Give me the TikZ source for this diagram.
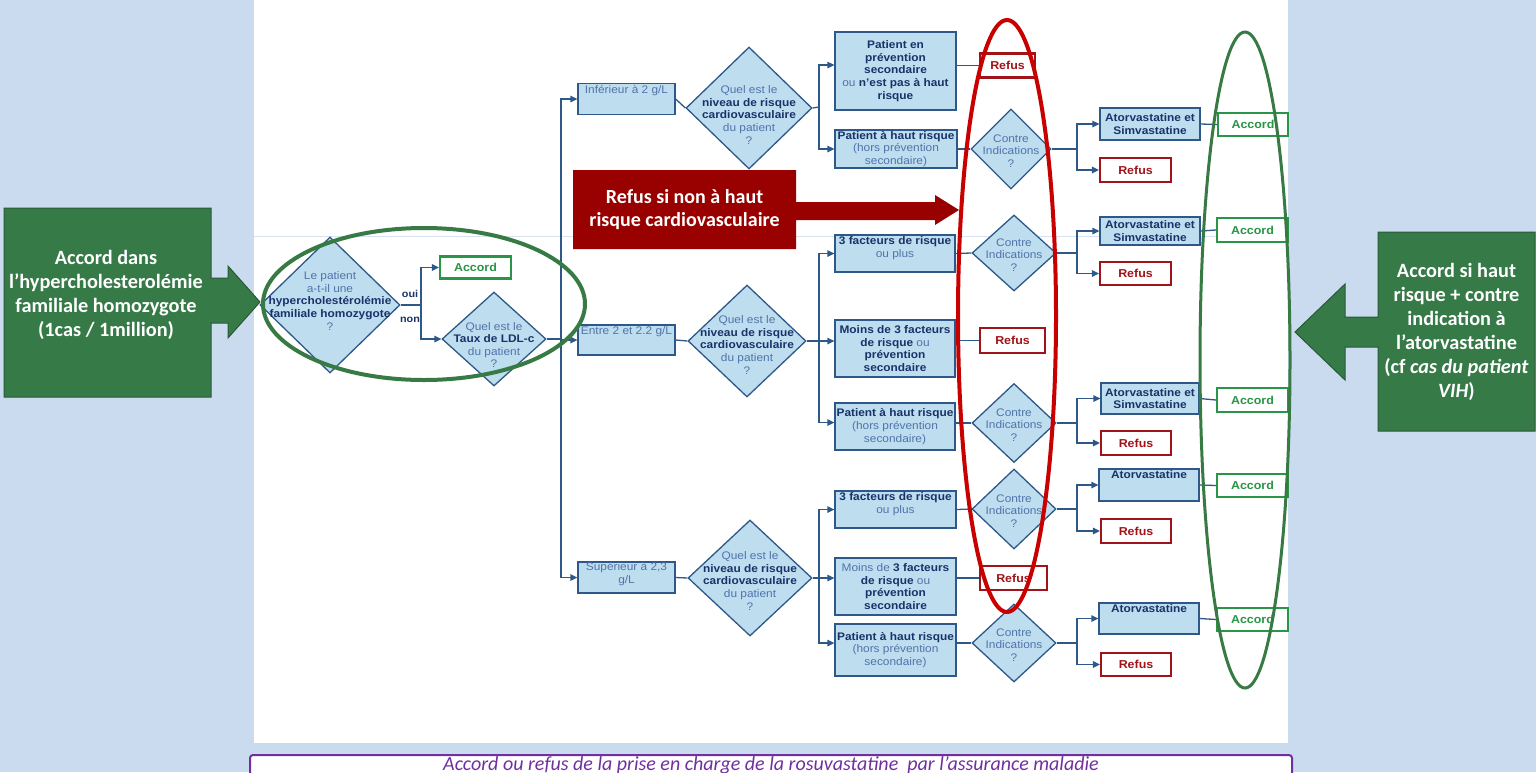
\documentclass[tikz,border=0pt]{standalone}
\usepackage{fontspec}
\usetikzlibrary{shapes.geometric,arrows.meta}
\newfontfamily\fcf[FakeStretch=1.08]{Liberation Sans}
\newfontfamily\calf{Carlito}
\definecolor{bgblue}{RGB}{202,219,240}
\definecolor{fcfill}{RGB}{190,222,240}
\definecolor{fcb}{RGB}{45,88,135}
\definecolor{fcdark}{RGB}{25,50,105}
\definecolor{fclight}{RGB}{80,115,170}
\definecolor{accg}{RGB}{40,150,70}
\definecolor{refr}{RGB}{160,20,25}
\definecolor{ellred}{RGB}{200,0,0}
\definecolor{ellgreen}{RGB}{56,122,68}
\definecolor{callg}{RGB}{54,122,71}
\definecolor{callgb}{RGB}{40,90,55}
\definecolor{callred}{RGB}{153,0,0}
\definecolor{capurple}{RGB}{112,48,160}
\definecolor{faintline}{RGB}{215,225,240}
\newcommand\fb[1]{{\bfseries\color{fcdark}#1}}
\tikzset{
  fcfont/.style={font=\fcf\fontsize{11}{12.6}\selectfont},
  fbox/.style={rectangle, draw=fcb, fill=fcfill, line width=1.3pt, inner sep=0pt, align=center, fcfont, text=fclight},
  btxt/.style={inner sep=2pt, align=center, fcfont, text=fclight},
  dia/.style={diamond, draw=fcb, fill=fcfill, line width=1.3pt, inner sep=0pt},
  dtxt/.style={inner sep=0pt, align=center, fcfont, text=fclight},
  accbox/.style={rectangle, draw=accg, line width=2.2pt, fill=white, inner sep=0pt, font=\fcf\bfseries\fontsize{11.5}{13}\selectfont, text=accg},
  refbox/.style={rectangle, draw=refr, line width=2.2pt, fill=white, inner sep=0pt, font=\fcf\bfseries\fontsize{11.5}{13}\selectfont, text=refr},
  con/.style={draw=fcb, line width=1.3pt},
  arr/.style={con, -{Triangle[length=7pt,width=6.5pt]}},
  calltext/.style={align=center, text=white, font=\calf\bfseries\fontsize{20.3}{24}\selectfont, inner sep=0pt},
}
\begin{document}
\begin{tikzpicture}[x=1pt,y=-1pt]
\useasboundingbox (0,0) rectangle (1536,772);
\clip (0,0) rectangle (1536,772);
\fill[bgblue] (0,0) rectangle (1536,772);
\fill[white] (254,0) rectangle (1288,743);
\draw[faintline, line width=0.8pt] (254,236) -- (1288,236);

% ---------- first stage ----------
\node[dia, minimum width=140pt, minimum height=136pt] (d1) at (330,305) {};
\node[dtxt] (d1t) at ([yshift=4pt]d1.center) {Le patient\\a-t-il une\\\fb{hypercholestérolémie}\\\fb{familiale homozygote}\\?};
\node[accbox, minimum width=71pt, minimum height=22pt] (acc0) at (475.5,267.5) {Accord};
\node[dia, minimum width=104pt, minimum height=94pt] (d2) at (494,339) {};
\node[dtxt] (d2t) at ([yshift=-6pt]d2.center) {Quel est le\\\fb{Taux de LDL-c}\\du patient\\?};
\coordinate (j1) at (421,305);
\draw[con] (d1.east) -- (j1);
\draw[arr] (j1) |- (acc0.west);
\draw[arr] (j1) |- (d2.west);
\node[font=\fcf\bfseries\fontsize{10}{12}\selectfont, text=fcdark, inner sep=0pt] (oui) at (410,294) {oui};
\node[font=\fcf\bfseries\fontsize{10}{12}\selectfont, text=fcdark, inner sep=0pt] (non) at (410,320) {non};

% ---------- LDL boxes ----------
\node[fbox, minimum width=97pt, minimum height=31pt] (inf) at (626.5,99) {};
\node[btxt, anchor=north] (inft) at (inf.north) {Inférieur à 2 g/L};
\node[fbox, minimum width=97pt, minimum height=30pt] (entre) at (626.5,340) {};
\node[btxt, anchor=north] (entret) at (entre.north) {Entre 2 et 2.2 g/L};
\node[fbox, minimum width=97pt, minimum height=31pt] (sup) at (626.5,577.5) {};
\node[btxt, anchor=north, inner sep=1pt] (supt) at (sup.north) {Supérieur à 2,3\\g/L};
\coordinate (j2) at (561,339);
\draw[con] (d2.east) -- (j2);
\draw[arr] (j2) |- (inf.west);
\draw[arr] (j2) |- (entre.west);
\draw[arr] (j2) |- (sup.west);

% ---------- risk diamonds ----------
\node[dia, minimum width=126pt, minimum height=122pt] (d3a) at (749,108) {};
\node[dtxt] (d3at) at ([yshift=-7pt]d3a.center) {Quel est le\\\fb{niveau de risque}\\\fb{cardiovasculaire}\\du patient\\?};
\node[dia, minimum width=118pt, minimum height=112pt] (d3b) at (747,341) {};
\node[dtxt] (d3bt) at ([yshift=-4pt]d3b.center) {Quel est le\\\fb{niveau de risque}\\\fb{cardiovasculaire}\\du patient\\?};
\node[dia, minimum width=124pt, minimum height=116pt] (d3c) at (750,578) {};
\node[dtxt] (d3ct) at ([yshift=-3pt]d3c.center) {Quel est le\\\fb{niveau de risque}\\\fb{cardiovasculaire}\\du patient\\?};
\draw[con] (inf.east) -- (d3a.west);
\draw[con] (entre.east) -- (d3b.west);
\draw[con] (sup.east) -- (d3c.west);

% ---------- row a ----------
\node[fbox, minimum width=121pt, minimum height=78pt] (pa1) at (895.5,71) {\fb{Patient en}\\\fb{prévention}\\\fb{secondaire}\\ou \fb{n’est pas à haut}\\\fb{risque}};
\node[fbox, minimum width=122pt, minimum height=38pt] (pa2) at (896,149) {\fb{Patient à haut risque}\\(hors prévention\\secondaire)};
\coordinate (j3a) at (819,107);
\draw[con] (d3a.east) -- (j3a);
\draw[arr] (j3a) |- ([yshift=6pt]pa1.west);
\draw[arr] (j3a) |- (pa2.west);
\node[refbox, minimum width=55pt, minimum height=24pt] (refA) at (1007.5,65.5) {Refus};
\draw[con] (pa1.east |- refA) -- (refA.west);
\node[dia, minimum width=80pt, minimum height=80pt] (ca1) at (1011,149) {};
\node[dtxt] (ca1t) at ([yshift=-2pt]ca1.center) {Contre\\Indications\\?};
\draw[con] (pa2.east) -- (ca1.west);
\node[fbox, minimum width=100pt, minimum height=32pt] (atvA) at (1150,124) {\fb{Atorvastatine et}\\\fb{Simvastatine}};
\node[accbox, minimum width=70pt, minimum height=23pt] (accA) at (1253,124.5) {Accord};
\node[refbox, minimum width=71pt, minimum height=24pt] (refA2) at (1135.5,170) {Refus};
\coordinate (k1) at (1077,149);
\draw[con] (ca1.east) -- (k1);
\draw[arr] (k1) |- (atvA.west);
\draw[arr] (k1) |- (refA2.west);
\draw[con] (atvA.east) -- (accA.west);

% ---------- row b ----------
\node[fbox, minimum width=120pt, minimum height=37pt] (pb1) at (895,253.5) {};
\node[btxt, anchor=north] (pb1t) at (pb1.north) {\fb{3 facteurs de risque}\\ou plus};
\node[fbox, minimum width=120pt, minimum height=57pt] (pb2) at (895,348.5) {\fb{Moins de 3 facteurs}\\\fb{de risque} ou\\\fb{prévention}\\\fb{secondaire}};
\node[fbox, minimum width=120pt, minimum height=47pt] (pb3) at (895,426.5) {\fb{Patient à haut risque}\\(hors prévention\\secondaire)};
\coordinate (j3b) at (819,341);
\draw[con] (d3b.east) -- (j3b);
\draw[arr] (j3b) |- (pb1.west);
\draw[arr] (j3b) -- (pb2.west |- j3b);
\draw[arr] (j3b) |- ([yshift=4pt]pb3.west);
\node[refbox, minimum width=65pt, minimum height=25pt] (refB) at (1012.5,340.5) {Refus};
\draw[con] (pb2.east |- refB) -- (refB.west);
\node[dia, minimum width=84pt, minimum height=76pt] (cb1) at (1014,253) {};
\node[dtxt] (cb1t) at ([yshift=-2pt]cb1.center) {Contre\\Indications\\?};
\draw[con] (pb1.east) -- (cb1.west);
\node[fbox, minimum width=100pt, minimum height=28pt] (atvB1) at (1150,231) {\fb{Atorvastatine et}\\\fb{Simvastatine}};
\node[accbox, minimum width=71pt, minimum height=24pt] (accB1) at (1252.5,230) {Accord};
\node[refbox, minimum width=71pt, minimum height=23pt] (refB1) at (1135.5,273.5) {Refus};
\coordinate (k2) at (1077,253);
\draw[con] (cb1.east) -- (k2);
\draw[arr] (k2) |- (atvB1.west);
\draw[arr] (k2) |- (refB1.west);
\draw[con] (atvB1.east) -- (accB1.west);
\node[dia, minimum width=84pt, minimum height=79pt] (cb2) at (1014,423) {};
\node[dtxt] (cb2t) at ([yshift=-2pt]cb2.center) {Contre\\Indications\\?};
\draw[con] (pb3.east |- cb2) -- (cb2.west);
\node[fbox, minimum width=98pt, minimum height=31pt] (atvB2) at (1150,398.5) {\fb{Atorvastatine et}\\\fb{Simvastatine}};
\node[accbox, minimum width=71pt, minimum height=24pt] (accB2) at (1252.5,400) {Accord};
\node[refbox, minimum width=70pt, minimum height=24pt] (refB2) at (1136,443) {Refus};
\coordinate (k3) at (1077,423);
\draw[con] (cb2.east) -- (k3);
\draw[arr] (k3) |- (atvB2.west);
\draw[arr] (k3) |- (refB2.west);
\draw[con] (atvB2.east) -- (accB2.west);

% ---------- row c ----------
\node[fbox, minimum width=121pt, minimum height=37pt] (pc1) at (895.5,509.5) {};
\node[btxt, anchor=north] (pc1t) at (pc1.north) {\fb{3 facteurs de risque}\\ou plus};
\node[fbox, minimum width=121pt, minimum height=57pt] (pc2) at (895.5,586.5) {Moins de \fb{3 facteurs}\\\fb{de risque} ou\\\fb{prévention}\\\fb{secondaire}};
\node[fbox, minimum width=121pt, minimum height=52pt] (pc3) at (895.5,650) {\fb{Patient à haut risque}\\(hors prévention\\secondaire)};
\coordinate (j3c) at (819,578);
\draw[con] (d3c.east) -- (j3c);
\draw[arr] (j3c) |- (pc1.west);
\draw[arr] (j3c) -- (pc2.west |- j3c);
\draw[arr] (j3c) |- ([yshift=7pt]pc3.west);
\node[refbox, minimum width=67pt, minimum height=24pt] (refC) at (1013.5,578) {Refus};
\draw[con] (pc2.east |- refC) -- (refC.west);
\node[dia, minimum width=84pt, minimum height=80pt] (cc1) at (1014,509) {};
\node[dtxt] (cc1t) at ([yshift=-2pt]cc1.center) {Contre\\Indications\\?};
\draw[con] (pc1.east) -- (cc1.west);
\node[fbox, minimum width=100pt, minimum height=32pt] (atvC1) at (1149,485) {};
\node[btxt, anchor=north] (atvC1t) at (atvC1.north) {\fb{Atorvastatine}};
\node[accbox, minimum width=71pt, minimum height=23pt] (accC1) at (1252.5,485.5) {Accord};
\node[refbox, minimum width=70pt, minimum height=24pt] (refC1) at (1136,531) {Refus};
\coordinate (k4) at (1077,509);
\draw[con] (cc1.east) -- (k4);
\draw[arr] (k4) |- (atvC1.west);
\draw[arr] (k4) |- (refC1.west);
\draw[con] (atvC1.east) -- (accC1.west);
\node[dia, minimum width=84pt, minimum height=78pt] (cc2) at (1014,643) {};
\node[dtxt] (cc2t) at ([yshift=-2pt]cc2.center) {Contre\\Indications\\?};
\draw[con] (pc3.east |- cc2) -- (cc2.west);
\node[fbox, minimum width=100pt, minimum height=31pt] (atvC2) at (1149,618.5) {};
\node[btxt, anchor=north] (atvC2t) at (atvC2.north) {\fb{Atorvastatine}};
\node[accbox, minimum width=71pt, minimum height=23pt] (accC2) at (1252.5,619.5) {Accord};
\node[refbox, minimum width=70pt, minimum height=23pt] (refC2) at (1136,664.5) {Refus};
\coordinate (k5) at (1077,643);
\draw[con] (cc2.east) -- (k5);
\draw[arr] (k5) |- (atvC2.west);
\draw[arr] (k5) |- (refC2.west);
\draw[con] (atvC2.east) -- (accC2.west);

% ---------- ellipses ----------
\draw[ellred, line width=4pt] (1007,316) ellipse [x radius=49, y radius=296];
\draw[ellgreen, line width=3pt] (1245,360) ellipse [x radius=45, y radius=328];
\draw[ellgreen, line width=4pt] (424,304) ellipse [x radius=161, y radius=76];

% ---------- callouts ----------
\draw[fill=callg, draw=callgb, line width=1pt] (4,208) -- (211,208) -- (211,278) -- (228,278) -- (228,266) -- (260,302) -- (228,338) -- (228,323) -- (211,323) -- (211,397) -- (4,397) -- cycle;
\node[calltext] (leftt) at (106,295) {Accord dans\\l’hypercholesterolémie\\familiale homozygote\\(1cas / 1million)};
\draw[fill=callg, draw=callgb, line width=1pt] (1535,232) -- (1378,232) -- (1378,317) -- (1345,317) -- (1345,284) -- (1295,332) -- (1345,380) -- (1345,347) -- (1378,347) -- (1378,431) -- (1535,431) -- cycle;
\node[calltext] (rightt) at (1456.5,332) {Accord si haut\\risque + contre\\indication à\\l’atorvastatine\\(cf \textit{cas du patient}\\\textit{VIH})};
\fill[callred] (573,170) -- (796,170) -- (796,202) -- (935,202) -- (935,195) -- (959,210) -- (935,225) -- (935,220) -- (796,220) -- (796,249) -- (573,249) -- cycle;
\node[calltext, font=\calf\bfseries\fontsize{20}{23}\selectfont] (redt) at (684.5,210) {Refus si non à haut\\risque cardiovasculaire};

% ---------- caption ----------
\draw[capurple, fill=white, line width=2pt, rounded corners=3pt] (250,755) rectangle (1292,790);
\node[anchor=base, text=capurple, font=\calf\itshape\fontsize{20}{22}\selectfont, inner sep=0pt] (cap) at (771,770) {Accord ou refus de la prise en charge de la rosuvastatine~ par l’assurance maladie};
\end{tikzpicture}
\end{document}
